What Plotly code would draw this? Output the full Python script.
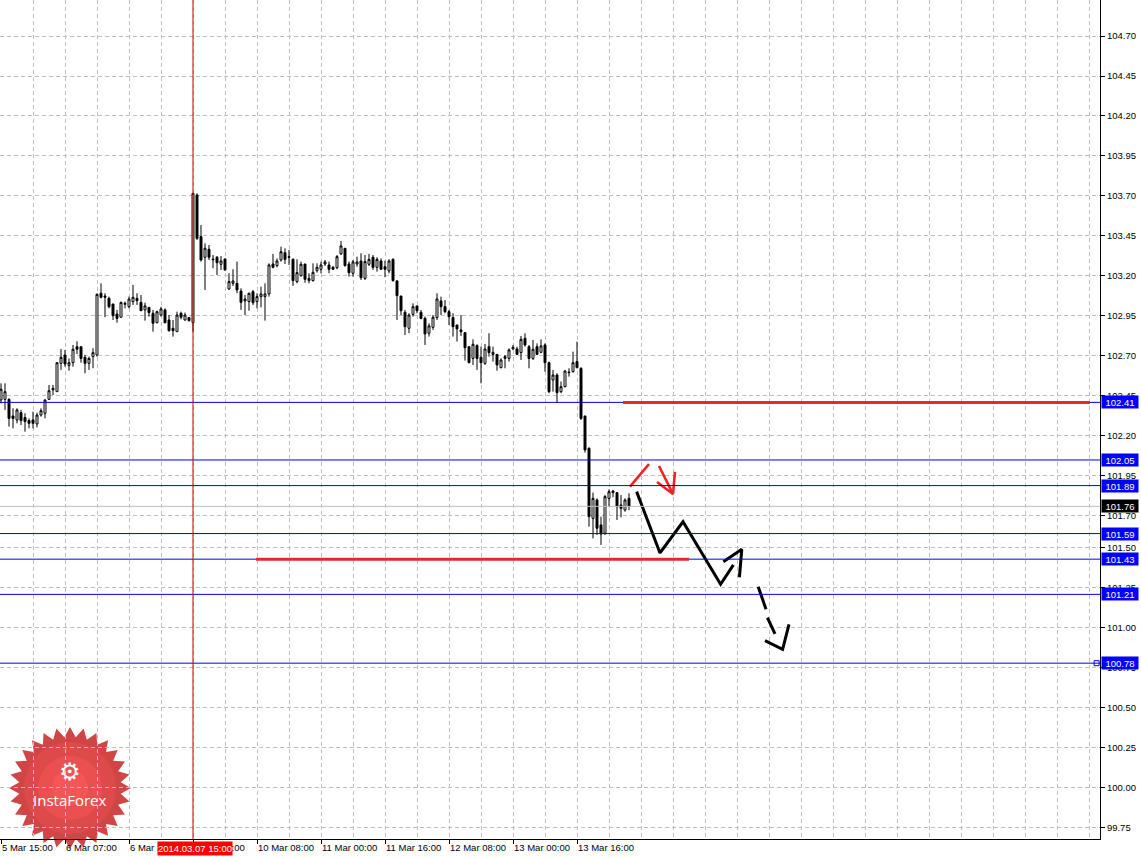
import math
import plotly.graph_objects as go

# ---------------- data (H1 candles) ----------------
open_ = [102.425, 102.429, 102.429, 102.325, 102.300, 102.346, 102.315, 102.296, 102.300, 102.275,
         102.331, 102.342, 102.429, 102.488, 102.477, 102.654, 102.706, 102.640, 102.658, 102.758,
         102.758, 102.692, 102.654, 102.696, 102.706, 103.092, 103.075, 103.060, 103.025, 102.962,
         102.942, 103.023, 103.008, 103.040, 103.060, 103.035, 102.988, 103.004, 102.967, 102.908,
         102.956, 102.988, 102.925, 102.873, 102.852, 102.967, 102.925, 102.940, 102.908, 103.706,
         103.446, 103.317, 103.367, 103.306, 103.317, 103.273, 103.306, 103.119, 103.154, 103.154,
         103.106, 103.044, 103.040, 103.102, 103.040, 103.071, 103.071, 103.088, 103.275, 103.265,
         103.300, 103.346, 103.321, 103.304, 103.165, 103.202, 103.275, 103.171, 103.171, 103.233,
         103.242, 103.275, 103.269, 103.254, 103.252, 103.338, 103.373, 103.275, 103.217, 103.275,
         103.294, 103.185, 103.273, 103.317, 103.254, 103.294, 103.258, 103.231, 103.304, 103.169,
         103.075, 102.973, 102.873, 102.960, 103.013, 102.973, 102.935, 102.842, 102.879, 102.940,
         103.044, 103.009, 102.977, 102.940, 102.894, 102.863, 102.846, 102.758, 102.685, 102.765,
         102.692, 102.654, 102.758, 102.710, 102.710, 102.627, 102.685, 102.685, 102.744, 102.744,
         102.721, 102.810, 102.758, 102.685, 102.758, 102.723, 102.769, 102.658, 102.550, 102.581,
         102.477, 102.508, 102.600, 102.602, 102.665, 102.623, 102.325, 102.123, 101.685, 101.800,
         101.644, 101.592, 101.810, 101.846, 101.846, 101.769, 101.737, 101.810]
high = [102.529, 102.529, 102.435, 102.373, 102.373, 102.363, 102.342, 102.310, 102.352, 102.346,
        102.373, 102.429, 102.519, 102.519, 102.660, 102.744, 102.738, 102.685, 102.769, 102.792,
        102.758, 102.706, 102.696, 102.748, 103.092, 103.154, 103.092, 103.071, 103.025, 102.988,
        103.040, 103.040, 103.071, 103.144, 103.092, 103.081, 103.033, 103.004, 102.988, 102.983,
        103.008, 102.998, 102.956, 102.925, 102.977, 102.977, 102.971, 102.942, 103.717, 103.717,
        103.519, 103.404, 103.394, 103.331, 103.325, 103.325, 103.310, 103.217, 103.242, 103.290,
        103.123, 103.081, 103.096, 103.113, 103.092, 103.133, 103.154, 103.279, 103.338, 103.310,
        103.383, 103.373, 103.363, 103.310, 103.304, 103.290, 103.275, 103.217, 103.279, 103.279,
        103.290, 103.300, 103.290, 103.263, 103.331, 103.419, 103.373, 103.290, 103.300, 103.321,
        103.342, 103.331, 103.338, 103.331, 103.317, 103.310, 103.296, 103.304, 103.310, 103.175,
        103.075, 102.988, 102.967, 103.029, 103.013, 102.988, 102.946, 102.904, 102.956, 103.092,
        103.071, 103.050, 102.988, 102.967, 102.894, 102.956, 102.846, 102.758, 102.804, 102.773,
        102.758, 102.775, 102.842, 102.758, 102.710, 102.685, 102.706, 102.748, 102.769, 102.758,
        102.825, 102.842, 102.769, 102.800, 102.779, 102.804, 102.779, 102.665, 102.613, 102.592,
        102.540, 102.613, 102.623, 102.727, 102.790, 102.629, 102.325, 102.129, 101.846, 101.810,
        101.696, 101.831, 101.867, 101.863, 101.846, 101.831, 101.810, 101.842]
low = [102.404, 102.363, 102.258, 102.248, 102.279, 102.269, 102.227, 102.248, 102.248, 102.254,
       102.321, 102.310, 102.425, 102.456, 102.477, 102.613, 102.633, 102.608, 102.633, 102.712,
       102.658, 102.592, 102.613, 102.623, 102.696, 103.060, 102.942, 102.998, 102.925, 102.908,
       102.942, 102.998, 102.998, 103.019, 103.019, 102.983, 102.921, 102.946, 102.852, 102.904,
       102.946, 102.904, 102.852, 102.821, 102.852, 102.929, 102.921, 102.915, 102.852, 103.425,
       103.290, 103.113, 103.300, 103.248, 103.206, 103.238, 103.233, 103.113, 103.138, 103.092,
       102.988, 102.956, 102.983, 103.019, 102.998, 103.004, 102.921, 103.071, 103.248, 103.254,
       103.290, 103.275, 103.269, 103.138, 103.154, 103.196, 103.158, 103.154, 103.165, 103.221,
       103.217, 103.263, 103.217, 103.238, 103.242, 103.331, 103.258, 103.196, 103.196, 103.258,
       103.175, 103.175, 103.263, 103.238, 103.227, 103.238, 103.192, 103.217, 103.165, 102.925,
       102.956, 102.831, 102.842, 102.946, 102.967, 102.929, 102.769, 102.821, 102.863, 102.925,
       102.956, 102.967, 102.894, 102.821, 102.790, 102.825, 102.671, 102.654, 102.644, 102.613,
       102.529, 102.644, 102.696, 102.665, 102.608, 102.623, 102.623, 102.665, 102.738, 102.706,
       102.675, 102.758, 102.623, 102.675, 102.706, 102.717, 102.602, 102.467, 102.477, 102.408,
       102.467, 102.504, 102.571, 102.596, 102.623, 102.300, 102.096, 101.633, 101.560, 101.581,
       101.519, 101.581, 101.758, 101.817, 101.675, 101.692, 101.727, 101.737]
close = [102.492, 102.477, 102.310, 102.310, 102.363, 102.296, 102.290, 102.279, 102.279, 102.331,
         102.358, 102.425, 102.483, 102.498, 102.658, 102.692, 102.650, 102.658, 102.742, 102.742,
         102.685, 102.654, 102.685, 102.721, 103.085, 103.067, 103.067, 103.008, 102.952, 102.935,
         103.035, 103.029, 103.056, 103.067, 103.046, 102.983, 103.013, 102.971, 102.904, 102.977,
         102.994, 102.908, 102.858, 102.858, 102.956, 102.942, 102.956, 102.921, 103.717, 103.435,
         103.300, 103.373, 103.317, 103.302, 103.283, 103.294, 103.238, 103.165, 103.169, 103.113,
         103.035, 103.056, 103.092, 103.033, 103.071, 103.088, 103.088, 103.269, 103.254, 103.294,
         103.352, 103.304, 103.317, 103.171, 103.221, 103.273, 103.179, 103.185, 103.223, 103.254,
         103.269, 103.288, 103.242, 103.242, 103.321, 103.388, 103.265, 103.221, 103.288, 103.288,
         103.190, 103.290, 103.304, 103.254, 103.304, 103.242, 103.242, 103.294, 103.171, 103.077,
         102.983, 102.883, 102.956, 103.008, 102.983, 102.935, 102.838, 102.888, 102.942, 103.056,
         103.008, 102.977, 102.946, 102.883, 102.869, 102.852, 102.752, 102.658, 102.773, 102.685,
         102.658, 102.744, 102.721, 102.723, 102.644, 102.675, 102.696, 102.738, 102.754, 102.710,
         102.804, 102.769, 102.685, 102.742, 102.710, 102.763, 102.658, 102.477, 102.581, 102.471,
         102.508, 102.606, 102.596, 102.658, 102.627, 102.310, 102.113, 101.696, 101.810, 101.623,
         101.587, 101.821, 101.852, 101.856, 101.758, 101.748, 101.800, 101.760]

bar_index = list(range(len(open_)))

tick_bars = [0, 16, 32, 48, 64, 80, 96, 112, 128, 144]
tick_labels = ["5 Mar 15:00", "6 Mar 07:00", "6 Mar 23:00", "7 Mar 15:00", "10 Mar 08:00",
               "11 Mar 00:00", "11 Mar 16:00", "12 Mar 08:00", "13 Mar 00:00", "13 Mar 16:00"]
price_ticks = [104.70, 104.45, 104.20, 103.95, 103.70, 103.45, 103.20, 102.95, 102.70, 102.45,
               102.20, 101.95, 101.70, 101.50, 101.25, 101.00, 100.75, 100.50, 100.25, 100.00, 99.75]

level_prices = [102.41, 102.05, 101.89, 101.59, 101.43, 101.21, 100.78]
level_labels = ["102.41", "102.05", "101.89", "101.59", "101.43", "101.21", "100.78"]
bid_price = 101.76
bid_label = "101.76"
cursor_bar = 48
cursor_label = "2014.03.07 15:00"

# hand-drawn red support / resistance segments (bar start, bar end, price)
red_levels = [(155.5, 272.25, 102.41), (63.75, 172.0, 101.43)]

# hand-drawn forecast arrows (bar index, price)
red_up_x = [157.25, 162.0]
red_up_y = [101.883, 102.025]
red_arrow_x = [164.5, 168.0, None, 164.0, 168.0, 168.5]
red_arrow_y = [102.0125, 101.8375, None, 101.9125, 101.8375, 101.975]
zig_x = [158.9, 164.75, 170.5, 179.9, 183.1, None, 180.6, 185.2, 184.6]
zig_y = [101.852, 101.469, 101.664, 101.273, 101.394, None, 101.414, 101.492, 101.317]
dash_x = [189.3, 191.25, None, 191.6, 193.5, None, 191.0, 195.4, 197.0]
dash_y = [101.258, 101.117, None, 101.064, 100.9625, None, 100.921, 100.867, 101.023]

# ---------------- figure ----------------
W, H = 1141, 858
ML, MR, MT, MB = 0, 41, 0, 19
PW, PH = W - ML - MR, H - MT - MB
X_RANGE = [-0.25, 274.75]
Y_RANGE = [99.681, 104.925]
FONT = "Liberation Sans"

fig = go.Figure()

fig.add_trace(go.Candlestick(
    x=bar_index, open=open_, high=high, low=low, close=close,
    increasing=dict(fillcolor="white", line=dict(color="black", width=1)),
    decreasing=dict(fillcolor="black", line=dict(color="black", width=1)),
    whiskerwidth=0, showlegend=False, hoverinfo="skip"))

fig.add_trace(go.Scatter(x=red_up_x, y=red_up_y, mode="lines",
                         line=dict(color="#EE2222", width=2.6), showlegend=False, hoverinfo="skip"))
fig.add_trace(go.Scatter(x=red_arrow_x, y=red_arrow_y, mode="lines",
                         line=dict(color="#EE2222", width=2.6), showlegend=False, hoverinfo="skip"))
fig.add_trace(go.Scatter(x=zig_x, y=zig_y, mode="lines",
                         line=dict(color="black", width=3), showlegend=False, hoverinfo="skip"))
fig.add_trace(go.Scatter(x=dash_x, y=dash_y, mode="lines",
                         line=dict(color="black", width=3), showlegend=False, hoverinfo="skip"))
fig.add_trace(go.Scatter(x=[273.9], y=[level_prices[-1]], mode="markers",
                         marker=dict(symbol="square-open", size=5, color="#0000FF", line=dict(width=1)),
                         showlegend=False, hoverinfo="skip"))

shapes = []
# InstaForex starburst logo (pixel geometry -> paper coords)
cx, cy, R_out, R_in, n_pts = 70, 788, 61, 51, 28
pts = []
for k in range(2 * n_pts):
    r = R_out if k % 2 == 0 else R_in
    a = math.pi * k / n_pts - math.pi / 2
    pts.append(((cx + r * math.cos(a)) / PW, 1 - (cy + r * math.sin(a)) / PH))
path = "M " + " L ".join(f"{x:.5f},{y:.5f}" for x, y in pts) + " Z"
shapes.append(dict(type="path", xref="paper", yref="paper", path=path,
                   fillcolor="#D04545", line=dict(width=0), layer="below"))
for rr, col, op in [(46, "#E04B4B", 0.8), (32, "#EE5151", 0.8), (18, "#F85656", 0.8)]:
    shapes.append(dict(type="circle", xref="paper", yref="paper",
                       x0=(cx - rr) / PW, x1=(cx + rr) / PW,
                       y0=1 - (cy + rr) / PH, y1=1 - (cy - rr) / PH,
                       fillcolor=col, opacity=op, line=dict(width=0), layer="below"))

shapes.append(dict(type="line", xref="paper", yref="y", x0=0, x1=1, y0=bid_price, y1=bid_price,
                   line=dict(color="#C0C0C0", width=1)))
for p in level_prices:
    shapes.append(dict(type="line", xref="paper", yref="y", x0=0, x1=1, y0=p, y1=p,
                       line=dict(color="#0000F0", width=1)))
shapes.append(dict(type="line", xref="x", yref="paper", x0=cursor_bar, x1=cursor_bar, y0=0, y1=1,
                   line=dict(color="#CC0000", width=1)))
for x0, x1, p in red_levels:
    shapes.append(dict(type="line", xref="x", yref="y", x0=x0, x1=x1, y0=p, y1=p,
                       line=dict(color="#E8262B", width=3)))

annotations = []
for p, lab in zip(level_prices, level_labels):
    annotations.append(dict(xref="paper", yref="y", x=1, y=p, xanchor="left", yanchor="middle",
                            xshift=1, text=lab, showarrow=False, bgcolor="#0000FF",
                            font=dict(family=FONT, size=9.5, color="white"),
                            width=36, height=12, borderpad=0, align="center"))
annotations.append(dict(xref="paper", yref="y", x=1, y=bid_price, xanchor="left", yanchor="middle",
                        xshift=1, text=bid_label, showarrow=False, bgcolor="black",
                        font=dict(family=FONT, size=9.5, color="white"),
                        width=36, height=12, borderpad=0, align="center"))
annotations.append(dict(xref="x", yref="paper", x=cursor_bar + 0.5, y=0, xanchor="center", yanchor="top",
                        yshift=-2, text=cursor_label, showarrow=False, bgcolor="#FF0000",
                        font=dict(family=FONT, size=9.5, color="white"),
                        width=74, height=13, borderpad=0, align="center"))
annotations.append(dict(xref="paper", yref="paper", x=cx / PW, y=1 - 772 / PH, xanchor="center",
                        yanchor="middle", text="⚙", showarrow=False,
                        font=dict(family="DejaVu Sans", size=24, color="white")))
annotations.append(dict(xref="paper", yref="paper", x=cx / PW, y=1 - 800 / PH, xanchor="center",
                        yanchor="middle", text="InstaForex", showarrow=False,
                        font=dict(family="Open Sans", size=15, color="white")))

fig.update_layout(
    width=W, height=H, autosize=False,
    margin=dict(l=ML, r=MR, t=MT, b=MB, pad=0),
    paper_bgcolor="white", plot_bgcolor="white",
    shapes=shapes, annotations=annotations,
    showlegend=False, hovermode=False,
    xaxis=dict(range=X_RANGE, rangeslider=dict(visible=False),
               tickmode="array", tickvals=tick_bars, ticktext=tick_labels,
               ticklabelposition="outside right", tickangle=0,
               ticks="outside", ticklen=4, tickcolor="black",
               showline=True, linecolor="black", linewidth=1,
               showgrid=True, gridcolor="#C0C0C0", griddash="4px,3px", gridwidth=1,
               minor=dict(tickmode="linear", tick0=0, dtick=8, showgrid=True,
                          gridcolor="#C0C0C0", griddash="4px,3px", gridwidth=1, ticks=""),
               zeroline=False, fixedrange=True, automargin=False,
               tickfont=dict(family=FONT, size=9.5, color="black")),
    yaxis=dict(range=Y_RANGE, side="right", tickmode="array", tickvals=price_ticks,
               ticktext=[f"{v:.2f}" for v in price_ticks],
               ticks="outside", ticklen=4, tickcolor="black",
               showline=True, linecolor="black", linewidth=1,
               showgrid=True, gridcolor="#C0C0C0", griddash="4px,3px", gridwidth=1,
               zeroline=False, fixedrange=True, automargin=False,
               tickfont=dict(family=FONT, size=9.5, color="black")),
)

fig.write_html("out.html", config={"displayModeBar": False},
               post_script="document.body.style.margin='0';document.body.style.padding='0';")
